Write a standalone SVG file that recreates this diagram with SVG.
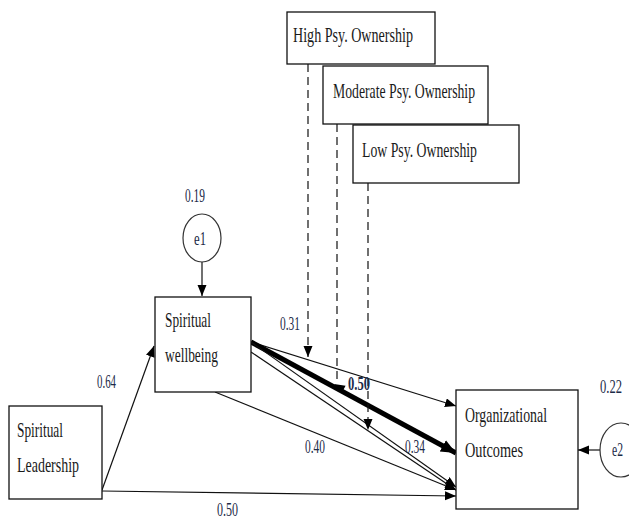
<svg xmlns="http://www.w3.org/2000/svg" width="629" height="519" viewBox="0 0 629 519">
<style>
.box{fill:#fff;stroke:#111;stroke-width:1.3}
.t{font-family:"Liberation Serif","Times New Roman",serif;font-size:22px;fill:#1a1a1a}
.n{font-family:"Liberation Serif","Times New Roman",serif;font-size:18px;fill:#1c2a48}
.ln{fill:none;stroke:#111;stroke-width:1.2}
.th{fill:none;stroke:#000;stroke-width:5}
.da{fill:none;stroke:#111;stroke-width:1.2;stroke-dasharray:8 5}
.err{fill:#fff;stroke:#333;stroke-width:1.2}
</style>
<defs>
<marker id="ah" markerUnits="userSpaceOnUse" markerWidth="12" markerHeight="10" refX="11" refY="4.5" orient="auto">
<path d="M0,0 L11,4.5 L0,9 z" fill="#000"/>
</marker>
<marker id="ahb" markerUnits="userSpaceOnUse" markerWidth="16" markerHeight="14" refX="15" refY="6.5" orient="auto">
<path d="M0,0 L15,6.5 L0,13 z" fill="#000"/>
</marker>
</defs>
<rect width="629" height="519" fill="#fff"/>
<g id="connectors">
<line class="ln" x1="102" y1="490" x2="154" y2="346" marker-end="url(#ah)"/>
<line class="ln" x1="102" y1="491" x2="456" y2="496" marker-end="url(#ah)"/>
<line class="ln" x1="202" y1="244" x2="202" y2="296" marker-end="url(#ah)"/>
<line class="ln" x1="251" y1="342" x2="456" y2="406" marker-end="url(#ah)"/>
<line class="th" x1="251" y1="342" x2="456" y2="453" marker-end="url(#ahb)"/>
<line class="ln" x1="251" y1="342" x2="456" y2="487" marker-end="url(#ah)"/>
<line class="ln" x1="251" y1="352" x2="456" y2="490" marker-end="url(#ah)"/>
<line class="ln" x1="215" y1="392" x2="456" y2="490" marker-end="url(#ah)"/>
<line class="ln" x1="600" y1="450" x2="578" y2="450" marker-end="url(#ah)"/>
<line class="da" x1="308" y1="64" x2="308" y2="357" marker-end="url(#ah)"/>
<line class="da" x1="337" y1="124" x2="337" y2="384"/>
<polygon points="334,384 345.6,385.7 341.8,392.7" fill="#000"/>
<line class="da" x1="368" y1="183" x2="368" y2="430" marker-end="url(#ah)"/>
</g>
<g id="high">
<rect class="box" x="287" y="12" width="148" height="52"/>
<text class="t" x="293" y="42" textLength="120" lengthAdjust="spacingAndGlyphs">High Psy. Ownership</text>
</g>
<g id="moderate">
<rect class="box" x="323" y="66" width="165" height="58"/>
<text class="t" x="333" y="98" textLength="142" lengthAdjust="spacingAndGlyphs">Moderate Psy. Ownership</text>
</g>
<g id="low">
<rect class="box" x="353" y="125" width="166" height="58"/>
<text class="t" x="362" y="157" textLength="115" lengthAdjust="spacingAndGlyphs">Low Psy. Ownership</text>
</g>
<g id="e1">
<ellipse class="err" cx="202" cy="238" rx="19" ry="24"/>
<text class="n" x="194" y="245" textLength="12" lengthAdjust="spacingAndGlyphs">e1</text>
<text class="n" x="185" y="202" textLength="20" lengthAdjust="spacingAndGlyphs">0.19</text>
</g>
<g id="wellbeing">
<rect class="box" x="155" y="297" width="96" height="95"/>
<text class="t" x="165" y="327" textLength="46" lengthAdjust="spacingAndGlyphs">Spiritual</text>
<text class="t" x="165" y="362" textLength="53" lengthAdjust="spacingAndGlyphs">wellbeing</text>
</g>
<g id="leadership">
<rect class="box" x="9" y="406" width="93" height="93"/>
<text class="t" x="17" y="437" textLength="46" lengthAdjust="spacingAndGlyphs">Spiritual</text>
<text class="t" x="17" y="472" textLength="62" lengthAdjust="spacingAndGlyphs">Leadership</text>
</g>
<g id="outcomes">
<rect class="box" x="456" y="390" width="122" height="119"/>
<text class="t" x="465" y="422" textLength="82" lengthAdjust="spacingAndGlyphs">Organizational</text>
<text class="t" x="465" y="457" textLength="58" lengthAdjust="spacingAndGlyphs">Outcomes</text>
</g>
<g id="e2">
<ellipse class="err" cx="621" cy="450" rx="21" ry="27"/>
<text class="n" x="612" y="456" textLength="11" lengthAdjust="spacingAndGlyphs">e2</text>
<text class="n" x="600" y="393" textLength="22" lengthAdjust="spacingAndGlyphs">0.22</text>
</g>
<g id="labels">
<text class="n" x="97" y="388" textLength="19" lengthAdjust="spacingAndGlyphs">0.64</text>
<text class="n" x="217" y="516" textLength="21" lengthAdjust="spacingAndGlyphs">0.50</text>
<text class="n" x="280" y="330" textLength="20" lengthAdjust="spacingAndGlyphs">0.31</text>
<text class="n" x="348" y="390" textLength="22" lengthAdjust="spacingAndGlyphs" font-weight="bold">0.50</text>
<text class="n" x="305" y="453" textLength="20" lengthAdjust="spacingAndGlyphs">0.40</text>
<text class="n" x="405" y="453" textLength="20" lengthAdjust="spacingAndGlyphs">0.34</text>
</g>
</svg>
